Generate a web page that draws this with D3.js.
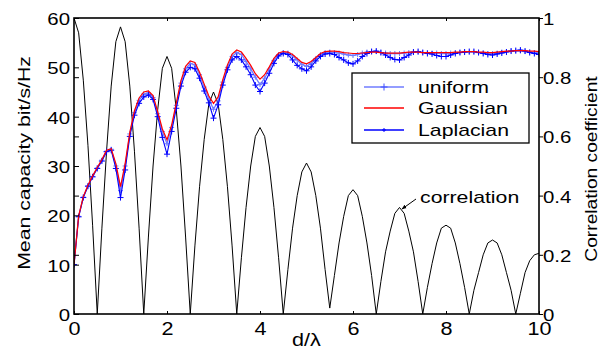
<!DOCTYPE html>
<html>
<head>
<meta charset="utf-8">
<script src="https://cdn.jsdelivr.net/npm/d3@7"></script>
<style>
  body { margin: 0; background: #fff; }
  text { font-family: "Liberation Sans", Arial, sans-serif; fill: #000; }
</style>
</head>
<body>
<svg></svg>
<script>
// size of the picture
var width = 608,
    height = 350

// samples are taken every 0.1 d/lambda, from 0 to 10
var dStep = 0.1

// mean capacity (bit/s/Hz)
var gaussian = [
  10.0, 19.9, 23.8, 26.1, 28.0, 29.7, 31.3, 33.2, 33.5, 30.5,
  25.8, 30.5, 36.8, 41.2, 43.8, 45.0, 45.2, 44.3, 41.0, 37.5,
  35.3, 38.3, 42.8, 47.3, 50.2, 51.3, 51.0, 49.0, 46.6, 44.2,
  42.7, 44.0, 47.5, 50.5, 52.7, 53.5, 53.1, 51.8, 50.4, 48.7,
  47.6, 48.5, 50.1, 51.8, 52.9, 53.2, 53.1, 52.6, 51.8, 51.0,
  50.7, 51.2, 52.0, 52.8, 53.2, 53.3, 53.3, 53.2, 53.0, 52.9,
  52.8, 52.8, 52.9, 53.0, 53.1, 53.1, 53.0, 52.9, 52.9, 52.9,
  52.9, 53.0, 53.1, 53.1, 53.1, 53.0, 53.0, 53.0, 53.0, 53.0,
  53.0, 53.0, 53.1, 53.1, 53.2, 53.2, 53.2, 53.1, 53.1, 53.0,
  53.0, 53.1, 53.2, 53.3, 53.3, 53.4, 53.4, 53.4, 53.3, 53.3,
  53.2]

var uniform = [
  10.0, 19.8, 23.7, 26.0, 27.9, 29.6, 31.2, 33.0, 33.4, 30.0,
  25.0, 30.0, 36.5, 40.8, 43.3, 44.6, 44.8, 43.9, 40.6, 37.0,
  34.5, 37.8, 42.3, 46.8, 49.7, 50.8, 50.5, 48.5, 46.0, 43.6,
  41.5, 43.2, 47.0, 50.0, 52.2, 53.0, 52.6, 51.2, 49.7, 48.0,
  46.5, 47.8, 49.6, 51.4, 52.6, 53.0, 52.9, 52.3, 51.5, 50.6,
  50.2, 50.8, 51.8, 52.6, 53.0, 53.1, 53.0, 52.9, 52.7, 52.5,
  52.4, 52.6, 52.9, 53.1, 53.2, 53.2, 53.0, 52.9, 52.8, 52.8,
  52.8, 52.9, 53.0, 53.1, 53.1, 53.0, 53.0, 52.9, 52.9, 52.8,
  52.8, 52.9, 53.0, 53.0, 53.1, 53.1, 53.1, 53.0, 52.9, 52.8,
  52.8, 52.9, 53.1, 53.2, 53.3, 53.3, 53.3, 53.2, 53.1, 53.0,
  52.9]

var laplacian = [
  10.0, 19.7, 23.6, 25.9, 27.8, 29.5, 31.0, 32.9, 33.2, 29.5,
  23.6, 29.2, 36.0, 40.3, 42.7, 44.0, 44.4, 43.5, 40.0, 35.8,
  32.4, 37.0, 41.7, 46.2, 49.0, 50.0, 49.7, 47.8, 45.2, 42.8,
  39.7, 42.4, 46.4, 49.5, 51.5, 52.2, 51.5, 50.1, 48.5, 46.4,
  45.1, 46.8, 48.8, 50.8, 52.3, 52.8, 52.6, 51.5, 50.4, 49.7,
  49.3, 50.1, 51.3, 52.2, 52.7, 52.8, 52.6, 52.0, 51.5, 50.9,
  50.7, 51.3, 52.2, 52.8, 53.2, 53.3, 53.0, 52.5, 52.0, 51.6,
  51.5, 52.0, 52.5, 53.1, 53.2, 53.0, 52.8, 52.7, 52.4, 52.2,
  52.2, 52.5, 52.8, 53.0, 53.1, 53.2, 53.2, 53.0, 52.8, 52.6,
  52.5, 52.7, 52.9, 53.1, 53.3, 53.4, 53.5, 53.3, 53.0, 52.8,
  52.6]

// correlation coefficient (right axis)
var correlation = [
  1.00, 0.95, 0.79, 0.57, 0.30, 0.00, 0.29, 0.55, 0.77, 0.92,
  0.97, 0.92, 0.77, 0.55, 0.29, 0.00, 0.26, 0.50, 0.69, 0.83,
  0.87, 0.83, 0.69, 0.50, 0.26, 0.00, 0.23, 0.43, 0.59, 0.71,
  0.75, 0.71, 0.59, 0.43, 0.23, 0.00, 0.19, 0.36, 0.50, 0.60,
  0.63, 0.60, 0.50, 0.36, 0.19, 0.00, 0.15, 0.29, 0.40, 0.48,
  0.51, 0.48, 0.40, 0.29, 0.15, 0.02, 0.13, 0.24, 0.33, 0.40,
  0.42, 0.40, 0.33, 0.24, 0.13, 0.00, 0.11, 0.21, 0.28, 0.34,
  0.36, 0.34, 0.28, 0.21, 0.11, 0.00, 0.09, 0.17, 0.24, 0.29,
  0.30, 0.29, 0.24, 0.17, 0.09, 0.00, 0.08, 0.14, 0.20, 0.24,
  0.25, 0.24, 0.20, 0.14, 0.08, 0.00, 0.07, 0.14, 0.18, 0.20,
  0.205]

var xTicks = [0, 2, 4, 6, 8, 10]
var yLeftTicks = [0, 10, 20, 30, 40, 50, 60]
var yRightTicks = [0, 0.2, 0.4, 0.6, 0.8, 1]

var legendNames = ["uniform", "Gaussian", "Laplacian"]

var svg = d3.select("svg")
    .attr("width", width)
    .attr("height", height)

// plot box
var pLeft = 74, pRight = 539, pTop = 18, pBottom = 314

var x = d3.scaleLinear().domain([0, 10]).range([pLeft, pRight])
var yL = d3.scaleLinear().domain([0, 60]).range([pBottom, pTop])
var yR = d3.scaleLinear().domain([0, 1]).range([pBottom, pTop])

// the fonts in the figure are a bit wider than Arial, so stretch text
function widen(sel, k) {
    sel.each(function() {
        var w = this.getComputedTextLength()
        d3.select(this)
            .attr("textLength", w * k)
            .attr("lengthAdjust", "spacingAndGlyphs")
    })
}

svg.append("clipPath").attr("id", "clip")
  .append("rect")
    .attr("x", pLeft).attr("y", pTop - 1)
    .attr("width", pRight - pLeft).attr("height", pBottom - pTop + 1)

var plot = svg.append("g").attr("clip-path", "url(#clip)")

// correlation curve, black
plot.append("path")
    .datum(correlation)
    .attr("fill", "none")
    .attr("stroke", "#000")
    .attr("stroke-width", 1)
    .attr("d", d3.line()
        .x(function(d, i) { return x(i * dStep) })
        .y(function(d) { return yR(d) }))

var capLine = d3.line()
    .x(function(d, i) { return x(i * dStep) })
    .y(function(d) { return yL(d) })

function plus(g, data, color, s, w) {
    g.selectAll(null)
        .data(data)
        .enter().append("path")
        .attr("d", function(d, i) {
            var cx = x(i * dStep), cy = yL(d)
            return "M" + (cx - s) + "," + cy + "H" + (cx + s) +
                   "M" + cx + "," + (cy - s) + "V" + (cy + s)
        })
        .attr("stroke", color)
        .attr("stroke-width", w)
}

// uniform: lighter blue with + markers
var gU = plot.append("g").attr("opacity", 0.75)
gU.append("path").datum(uniform)
    .attr("fill", "none").attr("stroke", "#4050ff").attr("stroke-width", 1.3)
    .attr("d", capLine)
plus(gU, uniform, "#4050ff", 2.5, 1)

// laplacian: blue with + markers
plot.append("path").datum(laplacian)
    .attr("fill", "none").attr("stroke", "#0000ff").attr("stroke-width", 1.1)
    .attr("d", capLine)
plus(plot.append("g"), laplacian, "#0000ff", 3, 1)

// gaussian: red, no markers
plot.append("path").datum(gaussian)
    .attr("fill", "none").attr("stroke", "#ff0000").attr("stroke-width", 1.2)
    .attr("d", capLine)

// axes
var axL = svg.append("g")
    .attr("transform", "translate(" + pLeft + ",0)")
    .call(d3.axisLeft(yL).tickValues(yLeftTicks).tickSize(-5).tickPadding(4))
// the right axis ticks also show on the left edge
svg.append("g")
    .attr("transform", "translate(" + pLeft + ",0)")
    .call(d3.axisLeft(yR).tickValues(yRightTicks).tickSize(-5).tickFormat(""))

var axB = svg.append("g")
    .attr("transform", "translate(0," + pBottom + ")")
    .call(d3.axisBottom(x).tickValues(xTicks).tickSize(-3).tickPadding(8))
svg.append("g")
    .attr("transform", "translate(0," + pTop + ")")
    .call(d3.axisTop(x).tickValues(xTicks).tickSize(-3).tickFormat(""))

var axR = svg.append("g")
    .attr("transform", "translate(" + pRight + ",0)")
    .call(d3.axisRight(yR).tickValues(yRightTicks).tickSize(4).tickPadding(0)
        .tickFormat(d3.format("")))

svg.selectAll(".domain").remove()
svg.selectAll(".tick line").attr("stroke", "#000").attr("stroke-width", 1)

// frame
svg.append("rect")
    .attr("x", pLeft).attr("y", pTop)
    .attr("width", pRight - pLeft).attr("height", pBottom - pTop)
    .attr("fill", "none")
    .attr("stroke", "#000")
    .attr("stroke-width", 1.6)

var tickText = svg.selectAll(".tick text")
    .style("font-size", "17px")
    .style("font-family", "'Liberation Sans', Arial, sans-serif")
axB.selectAll(".tick text").style("font-size", "18px")
axL.selectAll(".tick text").attr("dy", "0.38em")
axR.selectAll(".tick text").attr("dy", "0.38em")
widen(tickText, 1.2)

// axis titles
var xl = svg.append("text")
    .attr("x", x(5))
    .attr("y", 346)
    .attr("text-anchor", "middle")
    .style("font-size", "18px")
    .text("d/\u03bb")
widen(xl, 1.2)

var yl = svg.append("text")
    .attr("transform", "translate(30,163) rotate(-90)")
    .attr("text-anchor", "middle")
    .style("font-size", "17px")
    .text("Mean capacity bit/s/Hz")
widen(yl, 1.25)

var yr = svg.append("text")
    .attr("transform", "translate(597,169) rotate(-90)")
    .attr("text-anchor", "middle")
    .style("font-size", "16px")
    .text("Correlation coefficient")
widen(yr, 1.2)

// legend
var lg = svg.append("g").attr("transform", "translate(352,73)")
lg.append("rect")
    .attr("width", 177).attr("height", 70)
    .attr("fill", "#fff")
    .attr("stroke", "#000")
    .attr("stroke-width", 1.3)

var legColors = ["#4050ff", "#ff0000", "#0000ff"]
var legRows = lg.selectAll("g.row")
    .data(legendNames)
    .enter().append("g")
    .attr("class", "row")
    .attr("transform", function(d, i) { return "translate(0," + [14, 35, 57][i] + ")" })

legRows.append("line")
    .attr("x1", 12).attr("x2", 52)
    .attr("stroke", function(d, i) { return legColors[i] })
    .attr("stroke-opacity", function(d, i) { return i == 0 ? 0.75 : 1 })
    .attr("stroke-width", 1.3)
legRows.filter(function(d, i) { return i != 1 })
  .append("path")
    .attr("d", function(d) {
        var s = d == "uniform" ? 3.5 : 2
        return "M" + (32 - s) + ",0H" + (32 + s) + "M32," + (-s) + "V" + s
    })
    .attr("stroke", function(d) { return d == "uniform" ? "#4050ff" : "#0000ff" })
legRows.append("text")
    .attr("x", 66)
    .attr("dy", "0.36em")
    .style("font-size", "17px")
    .text(function(d) { return d })
widen(legRows.selectAll("text"), 1.25)

// annotation for the correlation curve
svg.append("defs").append("marker")
    .attr("id", "arrow")
    .attr("viewBox", "0 0 10 10")
    .attr("refX", 9).attr("refY", 5)
    .attr("markerWidth", 5).attr("markerHeight", 5)
    .attr("orient", "auto")
  .append("path")
    .attr("d", "M0,1L10,5L0,9z")
    .attr("fill", "#000")

svg.append("line")
    .attr("x1", 416).attr("y1", 199)
    .attr("x2", 402).attr("y2", 209)
    .attr("stroke", "#000")
    .attr("stroke-width", 1)
    .attr("marker-end", "url(#arrow)")

var ann = svg.append("text")
    .attr("x", 420)
    .attr("y", 203)
    .style("font-size", "17px")
    .text("correlation")
widen(ann, 1.25)
</script>
</body>
</html>
